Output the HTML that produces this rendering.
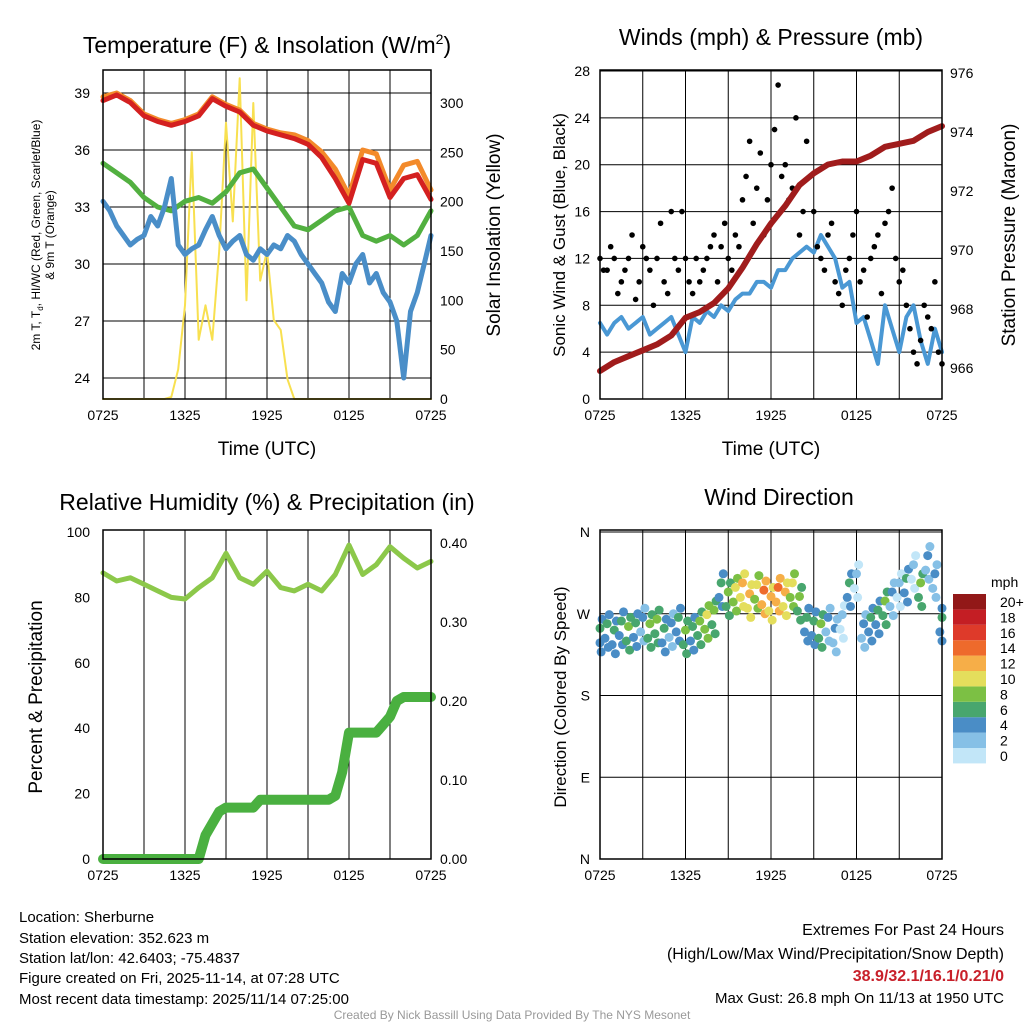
<!DOCTYPE html>
<html><head><meta charset="utf-8"><style>
body{margin:0;background:#fff;}
svg{display:block;font-family:"Liberation Sans",sans-serif;}
</style></head><body>
<svg id="s" width="1024" height="1024" viewBox="0 0 1024 1024" xmlns="http://www.w3.org/2000/svg">
<text x="267" y="53" font-size="23" text-anchor="middle">Temperature (F) &amp; Insolation (W/m<tspan font-size="14" dy="-9">2</tspan><tspan dy="9">)</tspan></text>
<text x="771" y="45" font-size="23" text-anchor="middle">Winds (mph) &amp; Pressure (mb)</text>
<text x="267" y="510" font-size="23" text-anchor="middle">Relative Humidity (%) &amp; Precipitation (in)</text>
<text x="779" y="505" font-size="23" text-anchor="middle">Wind Direction</text>
<g font-size="15">
<text x="19" y="922">Location: Sherburne</text>
<text x="19" y="943">Station elevation: 352.623 m</text>
<text x="19" y="963">Station lat/lon: 42.6403; -75.4837</text>
<text x="19" y="983">Figure created on Fri, 2025-11-14, at 07:28 UTC</text>
<text x="19" y="1004">Most recent data timestamp: 2025/11/14 07:25:00</text>
</g>
<g font-size="16" text-anchor="end">
<text x="1004" y="935">Extremes For Past 24 Hours</text>
<text x="1004" y="959">(High/Low/Max Wind/Precipitation/Snow Depth)</text>
<text x="1004" y="981" fill="#c8202a" font-weight="bold">38.9/32.1/16.1/0.21/0</text>
<text x="1004" y="1003" font-size="15">Max Gust: 26.8 mph On 11/13 at 1950 UTC</text>
</g>
<text x="512" y="1019" font-size="12" fill="#999" text-anchor="middle">Created By Nick Bassill Using Data Provided By The NYS Mesonet</text>
</svg>
<script>
const hours=[0,1,2,3,4,5,6,7,8,9,10,11,12,13,14,15,16,17,18,19,20,21,22,23,24];
const half=[];for(let i=0;i<=48;i++)half.push(i/2);
const xTickLabels=["0725","1325","1925","0125","0725"];
const tempF=[38.6,38.9,38.5,37.8,37.5,37.3,37.5,37.8,38.7,38.3,38.0,37.3,37.0,36.8,36.6,36.3,35.6,34.5,33.2,35.5,35.3,33.5,34.5,34.7,33.4];
const temp9m=[38.8,39.0,38.6,37.9,37.6,37.4,37.6,37.9,38.8,38.4,38.1,37.4,37.1,36.9,36.8,36.5,35.9,35.0,33.6,36.0,35.8,33.9,35.2,35.4,33.9];
const dewF=[35.3,34.8,34.3,33.5,33.0,32.8,33.3,33.5,33.2,33.8,34.8,35.0,34.0,33.0,32.0,31.8,32.3,32.8,33.0,31.5,31.2,31.5,31.0,31.5,32.8];
const chillF=[33.3,32.8,32.0,31.5,31.0,31.3,31.5,32.5,32.0,33.0,34.5,31.0,30.5,30.8,31.0,31.8,32.5,31.5,30.8,31.2,31.5,30.5,30.2,30.8,30.5,31.0,30.8,31.5,31.2,30.5,30.0,29.5,29.0,28.0,27.5,29.5,29.0,30.0,30.5,29.0,29.5,28.5,28.0,27.0,24.0,27.5,28.5,30.0,31.5];
const solar=[0,0,0,0,0,0,0,0,0,0,2,30,95,250,60,95,60,150,280,180,325,100,300,120,150,80,70,20,0,0,0,0,0,0,0,0,0,0,0,0,0,0,0,0,0,0,0,0,0];
const windMph=[6.5,5.5,6.5,7,6,6.5,7,5.5,6,6.5,7,5.5,4,7,6.5,7.5,7,8,7.5,8.5,9,9,10,10,9.5,11,11,12,12.5,13,12.5,14,13,12,9.5,10,6.5,7,5,3,8,6,4,7,8,5,3,6,4];
const pressureMb=[965.9,966.2,966.4,966.6,966.8,967.1,967.7,967.9,968.2,968.7,969.4,970.2,970.9,971.5,972.2,972.6,972.9,973.0,973.0,973.2,973.5,973.6,973.7,974.0,974.2];
const gustMph=[12,11,12,10,12,8.5,13,11,12,10,16,11,12,9,10,12,14,13,12,14,17,22,18,14,20,26.8,20,18,14,22,16,12,14,10,8,12,16,11,12,14,15,18,10,8,4,5,7,10,3];
const gust2Mph=[11,13,9,11,14,10,12,8,15,9,12,16,10,12,11,13,10,15,11,13,19,15,21,17,23,19,17,24,16,19,13,11,15,9,11,14,10,7,13,9,16,12,11,6,3,8,6,4];
const rhPct=[87.5,85,86,84,82,80,79.5,83,86,93.5,86,84,88,83,82,84,82,87,96,87,90,95.5,92,89,91];
const precipIn=[0,0,0,0,0,0,0,0,0,0,0,0,0,0,0,0.03,0.045,0.06,0.065,0.065,0.065,0.065,0.065,0.075,0.075,0.075,0.075,0.075,0.075,0.075,0.075,0.075,0.075,0.075,0.08,0.11,0.16,0.16,0.16,0.16,0.16,0.17,0.18,0.20,0.205,0.205,0.205,0.205,0.205];
const dirDeg=[250,255,248,258,252,256,262,255,260,250,256,262,248,252,258,265,270,300,290,295,300,288,298,292,285,295,290,300,285,262,258,255,262,250,265,300,310,255,262,270,280,290,300,305,320,300,330,310,262];
const dirSpeed=[6,7,6,7,8,7,5,8,9,6,4,7,8,6,9,10,8,7,8,10,12,13,11,15,12,14,12,10,8,6,7,9,5,4,3,6,2,4,6,7,8,4,3,6,2,8,5,4,6];
const cbLabels=["0","2","4","6","8","10","12","14","16","18","20+"];
const cbColors=["#c2e6f8","#86c0e6","#4a8dc6","#48a66e","#7cc044","#e4de5c","#f6ae48","#ee6a2c","#de3a2a","#c41e24","#921818"];

const S=document.getElementById('s');const NS='http://www.w3.org/2000/svg';
function mk(t,a,p){const e=document.createElementNS(NS,t);for(const k in a)e.setAttribute(k,a[k]);(p||S).appendChild(e);return e;}
function lin(d0,d1,r0,r1){return v=>r0+(v-d0)*(r1-r0)/(d1-d0);}
function frame(x0,y0,x1,y1,name){
 const g=mk('g',{});
 const xs=lin(0,24,x0,x1);
 for(let h=3;h<24;h+=3){const l=mk('line',{x1:xs(h),x2:xs(h),y1:y0,y2:y1,stroke:'#000','stroke-width':1},g);}
 xTickLabels.forEach((t,i)=>{const tx=mk('text',{x:xs(i*6),y:y1+21,'font-size':14,'text-anchor':'middle'},g);tx.textContent=t;});
 return {g,xs};
}
function border(x0,y0,x1,y1){const r=mk('rect',{x:x0,y:y0,width:x1-x0,height:y1-y0,fill:'none',stroke:'#000','stroke-width':1.5});}
function yTicks(vals,ys,x,anchor,g,grid,x0,x1,fmt){vals.forEach(v=>{
 if(grid){const l=mk('line',{x1:x0,x2:x1,y1:ys(v),y2:ys(v),stroke:'#000','stroke-width':1},g);}
 const t=mk('text',{x:x,y:ys(v)+5,'font-size':14,'text-anchor':anchor},g);t.textContent=fmt?fmt(v):v;});}
function line(xsArr,vals,xs,ys,color,w,name){const d=vals.map((v,i)=>(i?'L':'M')+xs(xsArr[i]).toFixed(1)+','+ys(v).toFixed(1)).join('');const p=mk('path',{d:d,fill:'none',stroke:color,'stroke-width':w,'stroke-linejoin':'round','stroke-linecap':'round'});}
function vtext(x,y,txt,size,name){const t=mk('text',{x:x,y:y,'font-size':size,'text-anchor':'middle',transform:`rotate(-90 ${x} ${y})`});t.innerHTML=txt;}
function xt(x,y,name){const t=mk('text',{x:x,y:y,'font-size':19,'text-anchor':'middle'});t.textContent='Time (UTC)';}

// Panel 1
{const f=frame(103,70,431,399,'temp-panel');const ys=lin(24,39,378,93);const ysr=lin(0,300,399,103);
 yTicks([24,27,30,33,36,39],ys,90,'end',f.g,true,103,431);
 yTicks([0,50,100,150,200,250,300],ysr,440,'start',f.g,false);
 line(half,solar,f.xs,ysr,'#f8e050',2,'solar-insolation-line');
 line(hours,dewF,f.xs,ys,'#52b040',5,'dewpoint-line');
 line(half,chillF,f.xs,ys,'#4a8ec8',5,'windchill-line');
 line(hours,temp9m,f.xs,ys,'#f38a2a',5,'temp-9m-line');
 line(hours,tempF,f.xs,ys,'#d42020',5,'temp-2m-line');
 border(103,70,431,399);
 vtext(40,235,'2m T, T<tspan font-size="8" dy="3">d</tspan><tspan dy="-3">, HI/WC (Red, Green, Scarlet/Blue)</tspan>',12,'temp-y-axis-title');
 vtext(54,235,'&amp; 9m T (Orange)',12,'temp-y-axis-title-2');
 vtext(500,235,'Solar Insolation (Yellow)',19,'solar-y-axis-title');
 xt(267,455,'temp-x-axis-title');}
// Panel 2
{const f=frame(600,70,942,399,'wind-panel');const ys=lin(0,28,399,71);const ysr=lin(966,976,368,73);
 yTicks([0,4,8,12,16,20,24,28],ys,590,'end',f.g,true,600,942);
 yTicks([966,968,970,972,974,976],ysr,950,'start',f.g,false);
 line(half,windMph,f.xs,ys,'#4a98d4',4,'sonic-wind-line');
 gustMph.forEach((v,i)=>{const c=mk('circle',{cx:f.xs(half[i]),cy:ys(v),r:2.8,fill:'#000'});});
 gust2Mph.forEach((v,i)=>{const c=mk('circle',{cx:f.xs(half[i]+0.25),cy:ys(v),r:2.8,fill:'#000'});});
 line(hours,pressureMb,f.xs,ysr,'#a01c1c',6,'pressure-line');
 border(600,70,942,399);
 vtext(565,235,'Sonic Wind &amp; Gust (Blue, Black)',17,'wind-y-axis-title');
 vtext(1015,235,'Station Pressure (Maroon)',19,'pressure-y-axis-title');
 xt(771,455,'wind-x-axis-title');}
// Panel 3
{const f=frame(103,530,431,859,'rh-panel');const ys=lin(0,100,859,532);const ysr=lin(0,0.4,859,543);
 yTicks([0,20,40,60,80,100],ys,90,'end',f.g,false);
 yTicks([0,0.1,0.2,0.3,0.4],ysr,440,'start',f.g,false,0,0,v=>v.toFixed(2));
 line(hours,rhPct,f.xs,ys,'#8cc84a',5,'rh-line');
 line(half,precipIn,f.xs,ysr,'#4ab040',10,'precip-line');
 border(103,530,431,859);
 vtext(42,697,'Percent &amp; Precipitation',19,'rh-y-axis-title');}
// Panel 4
{const f=frame(600,530,942,859,'wind-dir-panel');const ys=lin(0,360,859,532);
 const labs=['N','E','S','W','N'];
 [0,90,180,270,360].forEach((v,i)=>{const l=mk('line',{x1:600,x2:942,y1:ys(v),y2:ys(v),stroke:'#000'},f.g);
  const t=mk('text',{x:590,y:ys(v)+5,'font-size':14,'text-anchor':'end'},f.g);t.textContent=labs[i];});
 dirDeg.forEach((d,i)=>{const ci=Math.min(10,Math.floor(dirSpeed[i]/2));
  [[-0.15,-12],[0,4],[0.15,14],[0.08,-22]].forEach((o,k)=>{const c=mk('circle',{cx:f.xs(Math.min(24,Math.max(0,half[i]+o[0]))),cy:ys(d+o[1]),r:4.5,fill:cbColors[Math.max(0,ci-(k==1?0:1))]});});});
 border(600,530,942,859);
 vtext(566,697,'Direction (Colored By Speed)',17,'wind-dir-y-axis-title');
 const cb=mk('g',{});
 cbColors.forEach((c,i)=>{const y=748-i*15.4;mk('rect',{x:953,y:y,width:33,height:15.4,fill:c},cb);
  const t=mk('text',{x:1000,y:y+13,'font-size':14},cb);t.textContent=cbLabels[i];});
 const u=mk('text',{x:991,y:587,'font-size':14},cb);u.textContent='mph';}
</script>
</body></html>
